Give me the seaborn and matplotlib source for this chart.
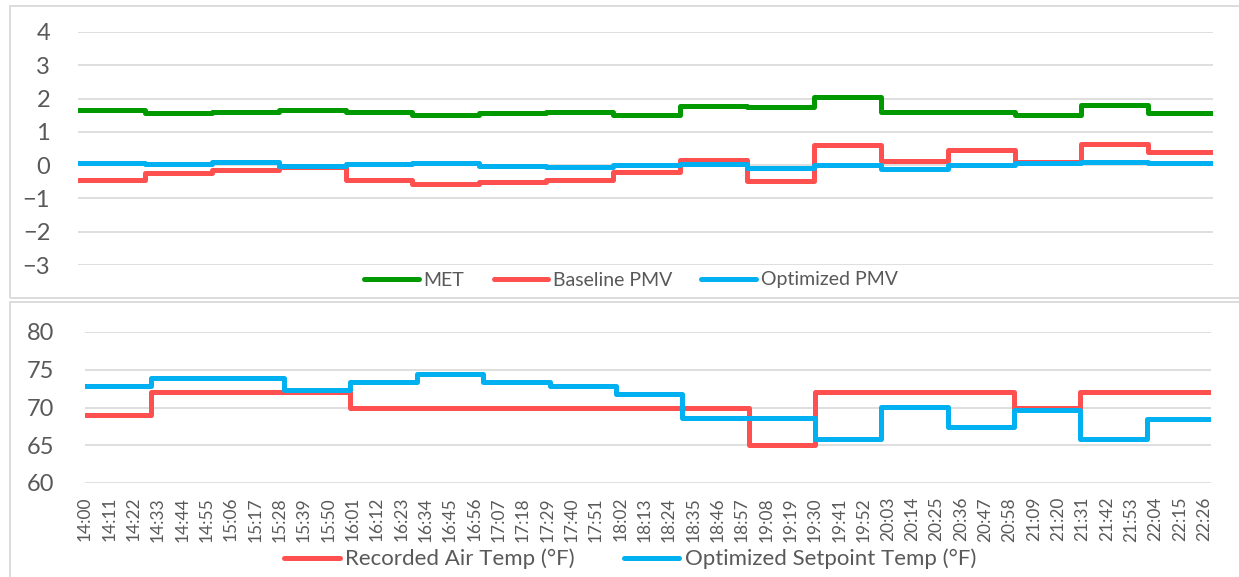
import matplotlib
matplotlib.use('Agg')
import matplotlib.pyplot as plt
import numpy as np
import pandas as pd
import seaborn as sns
from matplotlib.patches import Rectangle

sns.set_style('white')
plt.rcParams['font.family'] = ['Lato', 'DejaVu Sans']

# 每30分钟一个阶段的数值
seg_times = ['14:00', '14:30', '15:00', '15:30', '16:00', '16:30', '17:00', '17:30', '18:00',
             '18:30', '19:00', '19:30', '20:00', '20:30', '21:00', '21:30', '22:00']
end_time = '22:29'

met = [1.67, 1.57, 1.60, 1.67, 1.60, 1.52, 1.57, 1.60, 1.52, 1.77, 1.74, 2.05, 1.60, 1.60, 1.50, 1.80, 1.57]
baseline_pmv = [-0.46, -0.23, -0.16, -0.06, -0.46, -0.58, -0.50, -0.45, -0.21, 0.14, -0.48, 0.62, 0.12, 0.44, 0.10, 0.65, 0.40]
optimized_pmv = [0.05, 0.03, 0.10, -0.03, 0.02, 0.07, -0.03, -0.06, 0.00, 0.02, -0.10, 0.00, -0.11, -0.01, 0.05, 0.10, 0.05]

recorded_temp = [69, 72, 72, 72, 70, 70, 70, 70, 70, 70, 65, 72, 72, 72, 70, 72, 72]
setpoint_temp = [72.8, 73.9, 73.9, 72.3, 73.35, 74.5, 73.4, 72.9, 71.75, 68.6, 68.6, 65.8, 70.1, 67.45, 69.7, 65.8, 68.5]

tick_labels = ['14:00', '14:11', '14:22', '14:33', '14:44', '14:55', '15:06', '15:17', '15:28', '15:39',
               '15:50', '16:01', '16:12', '16:23', '16:34', '16:45', '16:56', '17:07', '17:18', '17:29',
               '17:40', '17:51', '18:02', '18:13', '18:24', '18:35', '18:46', '18:57', '19:08', '19:19',
               '19:30', '19:41', '19:52', '20:03', '20:14', '20:25', '20:36', '20:47', '20:58', '21:09',
               '21:20', '21:31', '21:42', '21:53', '22:04', '22:15', '22:26']

top_names = ['MET', 'Baseline PMV', 'Optimized PMV']
top_colors = ['#009A00', '#FF5050', '#00B0F0']
bot_names = ['Recorded Air Temp (°F)', 'Optimized Setpoint Temp (°F)']
bot_colors = ['#FF5050', '#00B0F0']

GRID = '#D9D9D9'
TXT = '#595959'


def to_min(t):
    h, m = t.split(':')
    return (int(h) - 14) * 60 + int(m)


# 把阶段数据整理成长表
def make_df(names, series):
    rows = []
    starts = [to_min(t) for t in seg_times] + [to_min(end_time)]
    for name, vals in zip(names, series):
        vv = list(vals) + [vals[-1]]
        for x, v in zip(starts, vv):
            rows.append({'minute': x, 'value': v, 'series': name})
    return pd.DataFrame(rows)


top_df = make_df(top_names, [met, baseline_pmv, optimized_pmv])
bot_df = make_df(bot_names, [recorded_temp, setpoint_temp])

W, H = 1239, 577
fig = plt.figure(figsize=(W / 100, H / 100), dpi=100)

# 外框
fig.patches.append(Rectangle((9.5 / W, 1 - 298 / H), (W + 10) / W, 292 / H, transform=fig.transFigure,
                             fill=False, edgecolor=GRID, linewidth=1.3))
fig.patches.append(Rectangle((9.5 / W, -0.05), (W + 10) / W, 0.05 + 1 - 302 / H, transform=fig.transFigure,
                             fill=False, edgecolor=GRID, linewidth=1.3))

ax1 = fig.add_axes([78 / W, 1 - 265 / H, 1135 / W, 233 / H])
ax2 = fig.add_axes([85 / W, 1 - 483 / H, 1126 / W, 151 / H])

sns.lineplot(data=top_df, x='minute', y='value', hue='series', hue_order=top_names,
             palette=top_colors, drawstyle='steps-post', linewidth=3.6, legend=False, ax=ax1)
sns.lineplot(data=bot_df, x='minute', y='value', hue='series', hue_order=bot_names,
             palette=bot_colors, drawstyle='steps-post', linewidth=3.6, legend=False, ax=ax2)

for ax in (ax1, ax2):
    for ln in ax.get_lines():
        ln.set_solid_capstyle('round')
        ln.set_solid_joinstyle('round')
    for s in ax.spines.values():
        s.set_visible(False)
    ax.grid(True, axis='y', color=GRID, linewidth=1.2)
    ax.set_axisbelow(True)
    ax.set_xlabel('')
    ax.set_ylabel('')
    ax.set_xlim(0, to_min(end_time))
    ax.tick_params(axis='y', length=0, labelsize=17, labelcolor=TXT)

ax1.set_ylim(-3, 4)
ax1.set_yticks(range(-3, 5))
ax1.tick_params(axis='y', pad=20)
ax1.set_xticks([])

ax2.set_ylim(60, 80)
ax2.set_yticks(range(60, 81, 5))
ax2.tick_params(axis='y', pad=22)
ax2.set_xticks([to_min(t) for t in tick_labels])
ax2.set_xticklabels(tick_labels, rotation=90, fontsize=12.5, color=TXT)
ax2.tick_params(axis='x', length=0, pad=10)

# 图例
fig.legend(ax1.get_lines()[:3], top_names, loc='center', bbox_to_anchor=(631 / W, 1 - 280 / H),
           ncol=3, frameon=False, fontsize=14, labelcolor=TXT, handlelength=2.8,
           handletextpad=0.25, columnspacing=1.5, borderpad=0, borderaxespad=0)
fig.legend(ax2.get_lines()[:2], bot_names, loc='center', bbox_to_anchor=(630 / W, 1 - 559 / H),
           ncol=2, frameon=False, fontsize=16, labelcolor=TXT, handlelength=2.5,
           handletextpad=0.25, columnspacing=2.2, borderpad=0, borderaxespad=0)

fig.savefig('out.png', dpi=100)
